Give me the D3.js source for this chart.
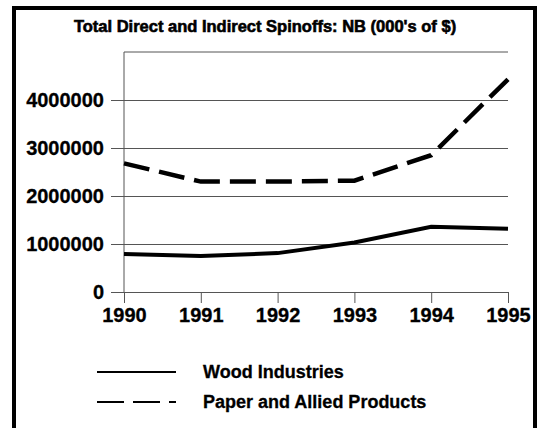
<!DOCTYPE html>
<html>
<head>
<meta charset="utf-8">
<script src="https://cdn.jsdelivr.net/npm/d3@7"></script>
<style>
  body { margin: 0; background: #fff; }
  text { font-family: "Liberation Sans", Arial, sans-serif; font-weight: bold; fill: #000; }
</style>
</head>
<body>
<div id="chart"></div>
<script>
// data
var years = [1990, 1991, 1992, 1993, 1994, 1995];
var woodIndustries = [790000, 750000, 810000, 1030000, 1360000, 1320000];
var paperAllied = [2680000, 2300000, 2300000, 2320000, 2850000, 4430000];
var seriesNames = ["Wood Industries", "Paper and Allied Products"];
var yTicks = [0, 1000000, 2000000, 3000000, 4000000];
var chartTitle = "Total Direct and Indirect Spinoffs: NB (000's of $)";

var width = 537, height = 428;
var svg = d3.select('#chart').append('svg')
    .attr('width', width)
    .attr('height', height);

// outer frame (bottom runs off the picture)
svg.append('rect')
    .attr('x', 14).attr('y', 8)
    .attr('width', 521).attr('height', 440)
    .attr('fill', 'none')
    .attr('stroke', '#000')
    .attr('stroke-width', 4);

svg.append('text')
    .attr('x', 265).attr('y', 32)
    .attr('text-anchor', 'middle')
    .style('font-size', '16.5px')
    .style('stroke', '#000')
    .style('stroke-width', 0.6)
    .text(chartTitle);

var x = d3.scaleLinear().domain([1990, 1995]).range([124, 508]);
var y = d3.scaleLinear().domain([0, 5000000]).range([292, 52]);

// top frame line of the plot
svg.append('line')
    .attr('x1', x(1990)).attr('x2', x(1995))
    .attr('y1', y(5000000)).attr('y2', y(5000000))
    .attr('stroke', '#555').attr('stroke-width', 1);

// y axis with gridlines
var yAxis = svg.append('g')
    .attr('transform', 'translate(' + x(1990) + ',0)')
    .call(d3.axisLeft(y).tickValues(yTicks)
        .tickSize(13).tickSizeOuter(0)
        .tickPadding(7)
        .tickFormat(d3.format('d')));
yAxis.select('.domain').remove();
yAxis.selectAll('.tick line')
    .attr('x2', x(1995) - x(1990))
    .attr('x1', -13)
    .attr('stroke', '#555');
yAxis.selectAll('.tick text')
    .attr('x', -20)
    .style('font-size', '20px')
    .style('font-family', '"Liberation Sans", Arial, sans-serif')
    .style('font-weight', 'bold')
    .style('stroke', '#000')
    .style('stroke-width', 0.3);

// vertical axis line
svg.append('line')
    .attr('x1', x(1990)).attr('x2', x(1990))
    .attr('y1', y(5000000)).attr('y2', y(0))
    .attr('stroke', '#555').attr('stroke-width', 1);

// x axis
var xAxis = svg.append('g')
    .attr('transform', 'translate(0,' + y(0) + ')')
    .call(d3.axisBottom(x).tickValues(years)
        .tickSize(11).tickSizeOuter(0)
        .tickPadding(5)
        .tickFormat(d3.format('d')));
xAxis.select('.domain').attr('stroke', '#555');
xAxis.selectAll('.tick line').attr('stroke', '#555');
xAxis.selectAll('.tick text')
    .style('font-size', '20px')
    .style('font-family', '"Liberation Sans", Arial, sans-serif')
    .style('font-weight', 'bold')
    .style('stroke', '#000')
    .style('stroke-width', 0.3);

var line = d3.line()
    .x(function (d, i) { return x(years[i]); })
    .y(function (d) { return y(d); });

svg.append('path')
    .datum(woodIndustries)
    .attr('d', line)
    .attr('fill', 'none')
    .attr('stroke', '#000')
    .attr('stroke-width', 4);

svg.append('path')
    .datum(paperAllied)
    .attr('d', line)
    .attr('fill', 'none')
    .attr('stroke', '#000')
    .attr('stroke-width', 4.5)
    .attr('stroke-dasharray', '26,10');

// legend
var legend = svg.selectAll('.legend')
    .data(seriesNames)
    .enter()
    .append('g')
    .attr('class', 'legend')
    .attr('transform', function (d, i) {
        return 'translate(97,' + (372 + i * 30) + ')';
    });

legend.append('line')
    .attr('x1', 0).attr('x2', 79)
    .attr('y1', 0).attr('y2', 0)
    .attr('stroke', '#000')
    .attr('stroke-width', 2)
    .attr('stroke-dasharray', function (d, i) { return i === 1 ? '27,9' : null; });

legend.append('text')
    .attr('x', 106)
    .attr('y', 6)
    .style('font-size', '18px')
    .style('stroke', '#000')
    .style('stroke-width', 0.3)
    .text(function (d) { return d; });
</script>
</body>
</html>
